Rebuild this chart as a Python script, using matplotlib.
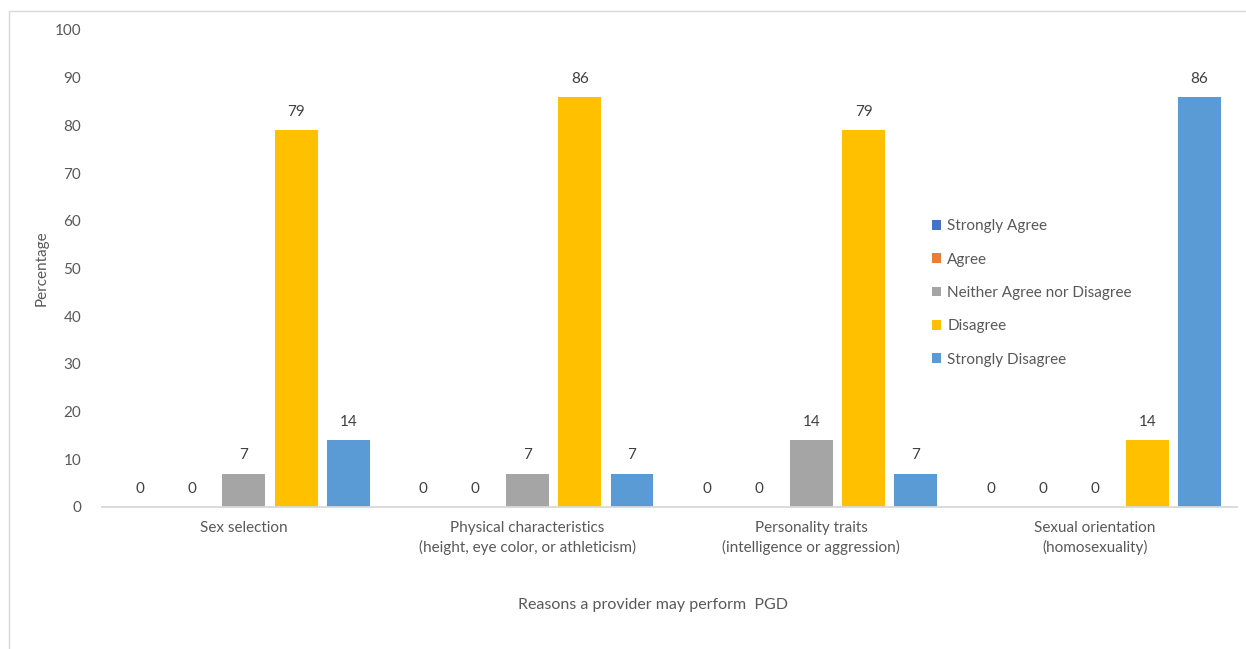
import matplotlib
matplotlib.use("Agg")
import matplotlib.pyplot as plt
import numpy as np
from matplotlib.patches import Rectangle

categories = ["Sex selection",
              "Physical characteristics\n(height, eye color, or athleticism)",
              "Personality traits\n(intelligence or aggression)",
              "Sexual orientation\n(homosexuality)"]
series_names = ["Strongly Agree", "Agree", "Neither Agree nor Disagree", "Disagree", "Strongly Disagree"]
strongly_agree = [0, 0, 0, 0]
agree = [0, 0, 0, 0]
neither = [7, 7, 14, 0]
disagree = [79, 86, 79, 14]
strongly_disagree = [14, 7, 7, 86]
colors = ["#4472C4", "#ED7D31", "#A5A5A5", "#FFC000", "#5B9BD5"]
yticks = [0, 10, 20, 30, 40, 50, 60, 70, 80, 90, 100]

plt.rcParams['font.family'] = ['Lato', 'DejaVu Sans']
txt = "#595959"
fs = 11

fig = plt.figure(figsize=(12.46, 6.49), dpi=100)
ax = fig.add_axes([102/1246, 1-507/649, (1237-102)/1246, (507-30)/649])

fig.patches.append(Rectangle((9/1246, -0.1), 1.2, 1-11/649+0.1, transform=fig.transFigure,
                             fill=False, edgecolor="#D9D9D9", linewidth=1))

data = [strongly_agree, agree, neither, disagree, strongly_disagree]
x = np.arange(len(categories))
slot = 0.184
width = 0.151
for i, (vals, name, c) in enumerate(zip(data, series_names, colors)):
    bars = ax.bar(x + (i - 2) * slot, vals, width, color=c, label=name)
    ax.bar_label(bars, padding=8, fontsize=fs, color="#404040")

ax.set_xlim(-0.5, len(categories) - 0.5)
ax.set_ylim(0, 100)
ax.set_yticks(yticks)
ax.set_xticks(x)
ax.set_xticklabels(categories, fontsize=fs, color=txt, linespacing=1.45)
ax.tick_params(axis='both', length=0, colors=txt, labelsize=fs)
ax.tick_params(axis='y', pad=15)
ax.tick_params(axis='x', pad=10)
for s in ["top", "right", "left"]:
    ax.spines[s].set_visible(False)
ax.spines["bottom"].set_color("#D9D9D9")
ax.spines["bottom"].set_linewidth(1.3)

fig.text(42/1246, 1-268/649, "Percentage", rotation=90, ha='center', va='center', fontsize=fs, color=txt)
fig.text(653/1246, 1-605/649, "Reasons a provider may perform  PGD", ha='center', va='center', fontsize=fs + 0.5, color=txt)

leg = ax.legend(loc='upper left', bbox_to_anchor=(926/1246, 1-213/649), bbox_transform=fig.transFigure,
                frameon=False, fontsize=fs, handlelength=0.6, handleheight=0.6, handletextpad=0.4,
                labelspacing=1.27, borderaxespad=0)
for t in leg.get_texts():
    t.set_color(txt)

fig.savefig("out.png", dpi=100)
